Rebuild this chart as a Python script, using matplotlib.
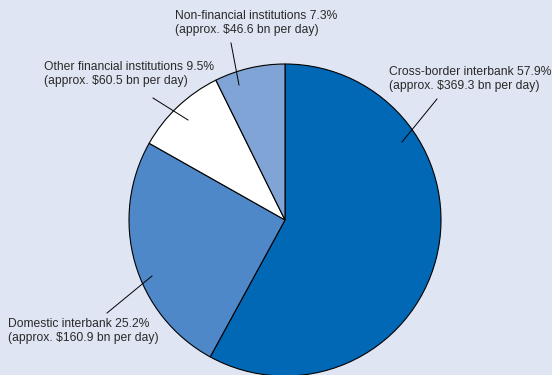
import matplotlib.pyplot as plt

plt.rcParams['font.family'] = ['Liberation Sans', 'DejaVu Sans']

# data
labels = ['Cross-border interbank', 'Domestic interbank',
          'Other financial institutions', 'Non-financial institutions']
shares = [57.9, 25.2, 9.5, 7.3]
amounts = [369.3, 160.9, 60.5, 46.6]
colors = ['#0068b4', '#4f88c8', '#ffffff', '#80a4d6']

# layout (pixel coordinates, y down from top)
W, H = 552, 375
cx, cy, R = 285, 220, 156
text_pos = [(389, 66), (8, 318), (44, 61), (175, 10)]
leader = [((437, 99), (402, 142)),
          ((107, 313), (152, 276)),
          ((153, 98), (188, 120)),
          ((231, 43), (239, 85))]

fig = plt.figure(figsize=(W / 100, H / 100), dpi=100)
fig.patch.set_facecolor('#dfe5f2')
ax = fig.add_axes([0, 0, 1, 1])
ax.set_facecolor('#dfe5f2')

ax.pie(shares, colors=colors, startangle=90, counterclock=False,
       center=(cx, H - cy), radius=R,
       wedgeprops=dict(edgecolor='black', linewidth=0.8))

for i in range(len(labels)):
    txt = '%s %.1f%%\n(approx. $%.1f bn per day)' % (labels[i], shares[i], amounts[i])
    x, y = text_pos[i]
    ax.text(x, H - y, txt, ha='left', va='top', fontsize=8.7, color='#2a2a2a')
    (x0, y0), (x1, y1) = leader[i]
    ax.plot([x0, x1], [H - y0, H - y1], color='black', linewidth=0.7)

ax.set_xlim(0, W)
ax.set_ylim(0, H)
ax.set_aspect('equal')
ax.axis('off')

fig.savefig('out.png', dpi=100, facecolor=fig.get_facecolor())
